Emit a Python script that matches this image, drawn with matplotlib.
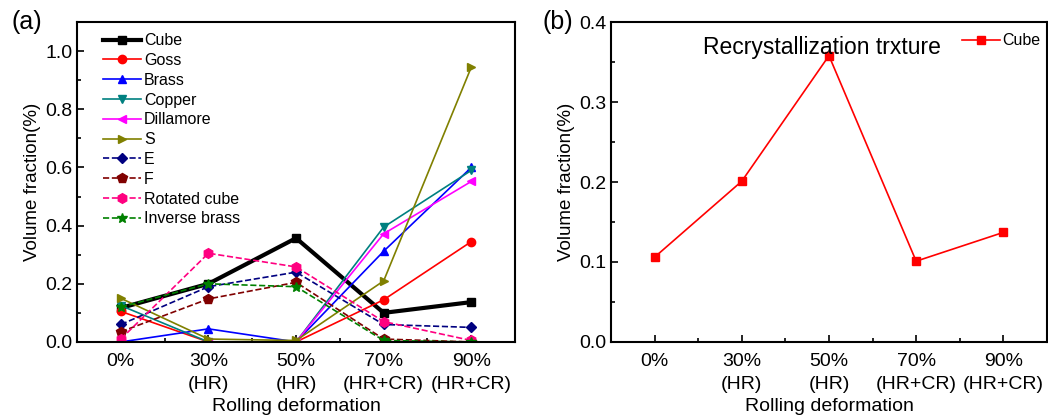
import numpy as np
import matplotlib.pyplot as plt
from matplotlib.ticker import MultipleLocator

plt.rcParams['font.family'] = ['Liberation Sans', 'DejaVu Sans']

# categorias del eje x
cats = ['0%', '30%\n(HR)', '50%\n(HR)', '70%\n(HR+CR)', '90%\n(HR+CR)']

# (a) textura de laminacion
cube = [0.117, 0.200, 0.357, 0.100, 0.137]
goss = [0.105, 0.000, 0.000, 0.145, 0.345]
brass = [0.000, 0.045, 0.000, 0.312, 0.600]
copper = [0.125, 0.000, 0.000, 0.395, 0.590]
dillamore = [0.000, 0.000, 0.000, 0.372, 0.552]
s_tex = [0.150, 0.010, 0.005, 0.210, 0.945]
e_tex = [0.060, 0.190, 0.240, 0.060, 0.050]
f_tex = [0.035, 0.148, 0.205, 0.010, 0.000]
rot_cube = [0.010, 0.305, 0.258, 0.070, 0.005]
inv_brass = [0.120, 0.200, 0.190, 0.005, 0.000]

# (b) textura de recristalizacion
recr_cube = [0.106, 0.201, 0.358, 0.101, 0.137]

x = np.arange(len(cats))

fig = plt.figure(figsize=(10.48, 4.17), dpi=100)
ax1 = fig.add_axes([0.0735, 0.180, 0.418, 0.767])
ax2 = fig.add_axes([0.583, 0.180, 0.416, 0.767])

ax1.plot(x, cube, '-s', color='black', lw=3, ms=6, label='Cube')
ax1.plot(x, goss, '-o', color='red', lw=1.2, ms=6, label='Goss')
ax1.plot(x, brass, '-^', color='blue', lw=1.2, ms=6, label='Brass')
ax1.plot(x, copper, '-v', color='#008080', lw=1.2, ms=6, label='Copper')
ax1.plot(x, dillamore, '-<', color='magenta', lw=1.2, ms=6, label='Dillamore')
ax1.plot(x, s_tex, '->', color='#808000', lw=1.2, ms=6, label='S')
ax1.plot(x, e_tex, '--D', color='#000080', lw=1.2, ms=5, label='E')
ax1.plot(x, f_tex, '--p', color='#800000', lw=1.2, ms=7, label='F')
ax1.plot(x, rot_cube, '--h', color='#ff0080', lw=1.2, ms=7, label='Rotated cube')
ax1.plot(x, inv_brass, '--*', color='#008000', lw=1.2, ms=7, label='Inverse brass')

ax1.set_ylim(0, 1.1)
ax1.yaxis.set_major_locator(MultipleLocator(0.2))
ax1.yaxis.set_minor_locator(MultipleLocator(0.1))
ax1.legend(loc='upper left', frameon=False, fontsize=11.5, handlelength=2.4,
           handletextpad=0.15, labelspacing=0.3, borderaxespad=0,
           bbox_to_anchor=(0.045, 0.985))

ax2.plot(x, recr_cube, '-s', color='red', lw=1.2, ms=6, label='Cube')
ax2.set_ylim(0, 0.4)
ax2.yaxis.set_major_locator(MultipleLocator(0.1))
ax2.yaxis.set_minor_locator(MultipleLocator(0.05))
ax2.text(0.483, 0.955, 'Recrystallization trxture', transform=ax2.transAxes,
         ha='center', va='top', fontsize=16.5)
ax2.legend(loc='upper left', frameon=False, fontsize=11.5, handlelength=2.4,
           handletextpad=0.15, borderaxespad=0, bbox_to_anchor=(0.79, 0.985))

for ax in (ax1, ax2):
    ax.set_xlim(-0.5, 4.5)
    ax.set_xticks(x)
    ax.set_xticklabels(cats, linespacing=1.45)
    ax.set_xticks(x[:-1] + 0.5, minor=True)
    ax.tick_params(which='both', direction='in', labelsize=14, width=1.2)
    ax.tick_params(which='major', length=5)
    ax.tick_params(which='minor', length=3)
    ax.tick_params(axis='x', pad=8)
    for sp in ax.spines.values():
        sp.set_linewidth(1.5)
    ax.set_ylabel('Volume fraction(%)', fontsize=13.5, labelpad=3)
    ax.set_xlabel('Rolling deformation', fontsize=14, labelpad=4)

fig.text(0.026, 0.947, '(a)', fontsize=18, ha='center', va='center')
fig.text(0.532, 0.947, '(b)', fontsize=18, ha='center', va='center')

fig.savefig('out.png', dpi=100)
